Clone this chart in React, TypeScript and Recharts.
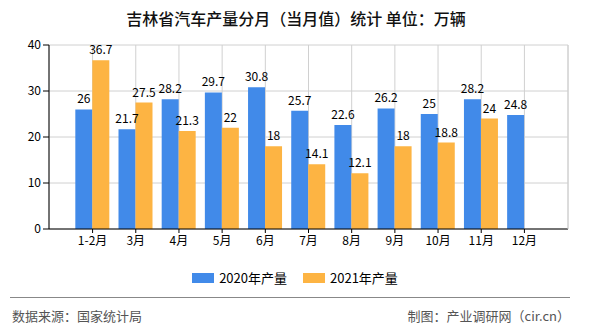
import React from "react";
import { BarChart, Bar, XAxis, YAxis, CartesianGrid, LabelList } from "recharts";

const months = ["1-2月", "3月", "4月", "5月", "6月", "7月", "8月", "9月", "10月", "11月", "12月"];
const output2020 = [26, 21.7, 28.2, 29.7, 30.8, 25.7, 22.6, 26.2, 25, 28.2, 24.8];
const output2021 = [36.7, 27.5, 21.3, 22, 18, 14.1, 12.1, 18, 18.8, 24, null];
const yTicks = [0, 10, 20, 30, 40];

const series = [
  { key: "y2020", name: "2020年产量", color: "#418ae9", values: output2020 },
  { key: "y2021", name: "2021年产量", color: "#fdb443", values: output2021 },
];

const data = months.map((m, i) => ({
  month: m,
  y2020: output2020[i],
  y2021: output2021[i],
}));

const font = "'Noto Sans CJK SC', 'Noto Sans', sans-serif";

export default function App() {
  return (
    <div
      style={{
        position: "absolute",
        left: 0,
        top: 0,
        width: 590,
        height: 330,
        background: "#fff",
        fontFamily: font,
      }}
    >
      <div
        style={{
          position: "absolute",
          top: 6,
          left: 0,
          width: 592,
          textAlign: "center",
          fontSize: 16,
          fontWeight: 500,
          color: "#111",
        }}
      >
        吉林省汽车产量分月（当月值）统计&nbsp;单位：万辆
      </div>

      <BarChart
        width={590}
        height={330}
        data={data}
        margin={{ top: 45, right: 21, bottom: 71, left: 0 }}
        barCategoryGap="10%"
        barGap={0}
        style={{ position: "absolute", left: 0, top: 0 }}
      >
        <CartesianGrid stroke="#d0d0d0" />
        <XAxis
          dataKey="month"
          height={30}
          padding={{ left: 22, right: 22 }}
          axisLine={{ stroke: "#000" }}
          tickLine={{ stroke: "#000" }}
          tickSize={4}
          tick={{ fill: "#000", fontSize: 12, fontFamily: font }}
          tickMargin={3}
          interval={0}
        />
        <YAxis
          width={49}
          domain={[0, 40]}
          ticks={yTicks}
          axisLine={{ stroke: "#000" }}
          tickLine={{ stroke: "#000" }}
          tickSize={6}
          tickMargin={2}
          tick={{ fill: "#000", fontSize: 12, fontFamily: font }}
        />
        <YAxis
          yAxisId="edge"
          orientation="right"
          width={1}
          domain={[0, 40]}
          tick={false}
          tickLine={false}
          axisLine={{ stroke: "#d0d0d0" }}
        />
        {series.map((s) => (
          <Bar key={s.key} dataKey={s.key} name={s.name} fill={s.color} isAnimationActive={false}>
            <LabelList
              dataKey={s.key}
              position="top"
              offset={6}
              style={{ fill: "#000", fontSize: 12, fontFamily: font }}
            />
          </Bar>
        ))}
      </BarChart>

      <div
        style={{
          position: "absolute",
          top: 268,
          left: 0,
          width: 590,
          display: "flex",
          justifyContent: "center",
          gap: 16,
          fontSize: 13,
          color: "#000",
        }}
      >
        {series.map((s) => (
          <div key={s.key} style={{ display: "flex", alignItems: "center" }}>
            <span style={{ display: "inline-block", width: 22, height: 10, background: s.color, marginRight: 5 }} />
            <span>{s.name}</span>
          </div>
        ))}
      </div>

      <div
        style={{
          position: "absolute",
          top: 297,
          left: 10,
          width: 560,
          borderTop: "1.5px solid #888",
        }}
      />
      <div style={{ position: "absolute", top: 306, left: 12, fontSize: 13, color: "#555" }}>
        数据来源：国家统计局
      </div>
      <div style={{ position: "absolute", top: 306, right: 20, fontSize: 13, color: "#555" }}>
        制图：产业调研网（cir.cn）
      </div>
    </div>
  );
}
